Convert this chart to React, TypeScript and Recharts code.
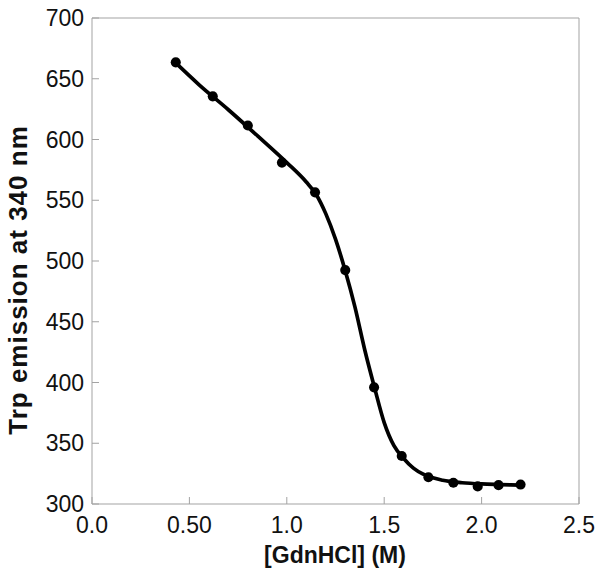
import { ComposedChart, Line, Scatter, XAxis, YAxis, ZAxis } from 'recharts'

// measured points (GdnHCl molarity vs Trp emission)
const denaturant = [0.43, 0.62, 0.8, 0.975, 1.145, 1.3, 1.448, 1.59, 1.727, 1.855, 1.98, 2.087, 2.2]
const emission = [663.5, 635.5, 611.5, 581, 556.5, 492.5, 396, 339.5, 322, 317.5, 314.5, 315.5, 316]

// fitted curve
const fitX = [0.43, 0.55, 0.7, 0.85, 1.0, 1.1, 1.15, 1.2, 1.25, 1.3, 1.35, 1.4, 1.45, 1.5, 1.55, 1.6, 1.65, 1.7, 1.8, 1.9, 2.0, 2.1, 2.2]
const fitY = [663, 645, 624.5, 603, 581, 565, 555, 539, 518, 492, 462, 427, 396, 367, 348, 337.5, 329.5, 324.5, 319.5, 317.5, 316.5, 316, 315.5]

const xTicks = [0, 0.5, 1.0, 1.5, 2.0, 2.5]
const xTickLabels = ['0.0', '0.50', '1.0', '1.5', '2.0', '2.5']
const yTicks = [300, 350, 400, 450, 500, 550, 600, 650, 700]

const points = denaturant.map((x, i) => ({ x, y: emission[i] }))
const fit = fitX.map((x, i) => ({ x, y: fitY[i] }))

const frame = '#a3a3a3'
const font = '"Liberation Sans", Arial, sans-serif'
const tickFont = { fill: '#111', fontSize: 23, fontFamily: font }

export default function App() {
  return (
    <div style={{ position: 'absolute', left: 0, top: 0, background: '#fff' }}>
      <ComposedChart width={604} height={577} margin={{ top: 17, right: 24, bottom: 0, left: 0 }}>
        <XAxis
          type="number"
          dataKey="x"
          domain={[0, 2.5]}
          ticks={xTicks}
          tickFormatter={(v: number) => xTickLabels[xTicks.indexOf(v)] ?? String(v)}
          height={73}
          tickSize={-7}
          tickMargin={20}
          tick={tickFont}
          stroke={frame}
          interval={0}
          label={{
            content: () => (
              <text x={335} y={563} textAnchor="middle" fontFamily={font} fontSize={23} fontWeight="bold" fill="#111">
                [GdnHCl] (M)
              </text>
            ),
          }}
        />
        {/* top and right axes only draw the box and the inner ticks */}
        <XAxis
          xAxisId="top"
          orientation="top"
          type="number"
          dataKey="x"
          domain={[0, 2.5]}
          ticks={xTicks}
          height={1}
          tickSize={-7}
          tick={false}
          stroke={frame}
          interval={0}
        />
        <YAxis
          type="number"
          dataKey="y"
          domain={[300, 700]}
          ticks={yTicks}
          width={92}
          tickSize={-7}
          tickMargin={15}
          tick={tickFont}
          stroke={frame}
          interval={0}
          label={{
            content: () => (
              <text
                x={27}
                y={280}
                transform="rotate(-90 27 280)"
                textAnchor="middle"
                fontFamily={font}
                fontSize={26}
                fontWeight="bold"
                letterSpacing={1}
                fill="#111"
              >
                Trp emission at 340 nm
              </text>
            ),
          }}
        />
        <YAxis
          yAxisId="right"
          orientation="right"
          type="number"
          dataKey="y"
          domain={[300, 700]}
          ticks={yTicks}
          width={1}
          tickSize={-7}
          tick={false}
          stroke={frame}
          interval={0}
        />
        <ZAxis range={[80, 80]} />
        <Scatter
          xAxisId="top"
          yAxisId="right"
          data={points}
          dataKey="y"
          fill="none"
          stroke="none"
          isAnimationActive={false}
        />
        <Line
          data={fit}
          dataKey="y"
          type="monotone"
          stroke="#000"
          strokeWidth={3.7}
          dot={false}
          activeDot={false}
          isAnimationActive={false}
        />
        <Scatter data={points} dataKey="y" fill="#000" isAnimationActive={false} />
      </ComposedChart>
    </div>
  )
}
